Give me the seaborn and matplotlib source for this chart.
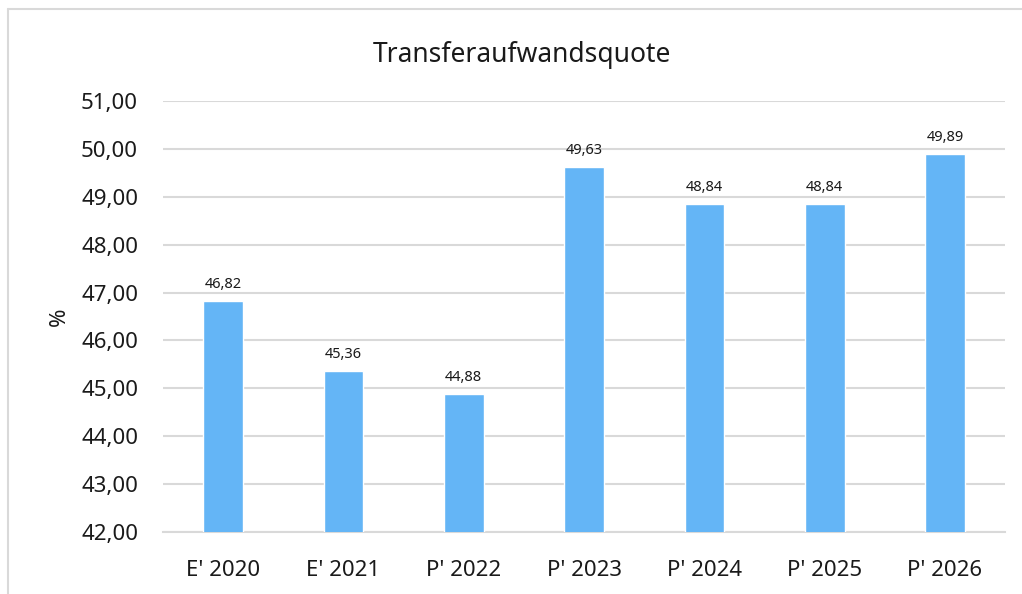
import matplotlib; matplotlib.use("Agg")
import matplotlib.pyplot as plt
from matplotlib.ticker import FuncFormatter, MultipleLocator
from matplotlib.lines import Line2D
import seaborn as sns
import pandas as pd

# ── DATEN ─────────────────────────────────────────────────────────────────────
JAHRE  = ["E' 2020", "E' 2021", "P' 2022", "P' 2023", "P' 2024", "P' 2025", "P' 2026"]
QUOTEN = [46.82, 45.36, 44.88, 49.63, 48.84, 48.84, 49.89]

BAR = "#64B5F6"; GRID = "#D9D9D9"; TXT = "#1A1A1A"

sns.set_style("white")
plt.rcParams["font.family"] = ["Noto Sans", "DejaVu Sans"]

df = pd.DataFrame({"jahr": JAHRE, "quote": QUOTEN})

fig = plt.figure(figsize=(10.22, 5.94), dpi=100)
ax = fig.add_axes([0.1595, 0.1044, 0.824, 0.7256])

sns.barplot(data=df, x="jahr", y="quote", color=BAR, saturation=1,
            width=0.33, ax=ax, zorder=3)

ax.set_ylim(42, 51)
ax.yaxis.set_major_locator(MultipleLocator(1))
ax.yaxis.set_major_formatter(FuncFormatter(lambda v, _: f"{v:.2f}".replace(".", ",")))
ax.grid(axis="y", color=GRID, lw=1.5, zorder=0)
ax.set_axisbelow(True)
for s in ["top", "right", "left"]:
    ax.spines[s].set_visible(False)
ax.spines["bottom"].set_color(GRID)
ax.spines["bottom"].set_linewidth(1.5)
ax.tick_params(axis="both", length=0, labelsize=16, colors=TXT)
ax.tick_params(axis="y", pad=18)
ax.tick_params(axis="x", pad=20)
ax.set_xlabel("")
ax.set_ylabel("%", fontsize=16, color=TXT, labelpad=8)
ax.set_xlim(-0.5, len(JAHRE) - 0.5)

for i, v in enumerate(QUOTEN):
    ax.annotate(f"{v:.2f}".replace(".", ","), (i, v), xytext=(0, 6.5),
                textcoords="offset points", ha="center", va="bottom",
                fontsize=10.5, color=TXT)

fig.text(522/1022, 1 - 62/594, "Transferaufwandsquote", ha="center", va="baseline",
         fontsize=19, color=TXT)

# äußerer Rahmen (nur links und oben sichtbar)
fig.add_artist(Line2D([8/1022, 8/1022], [0, 1 - 9/594], transform=fig.transFigure,
                      color=GRID, lw=1.5))
fig.add_artist(Line2D([8/1022, 1], [1 - 9/594, 1 - 9/594], transform=fig.transFigure,
                      color=GRID, lw=1.5))

fig.savefig("out.png", dpi=100)
